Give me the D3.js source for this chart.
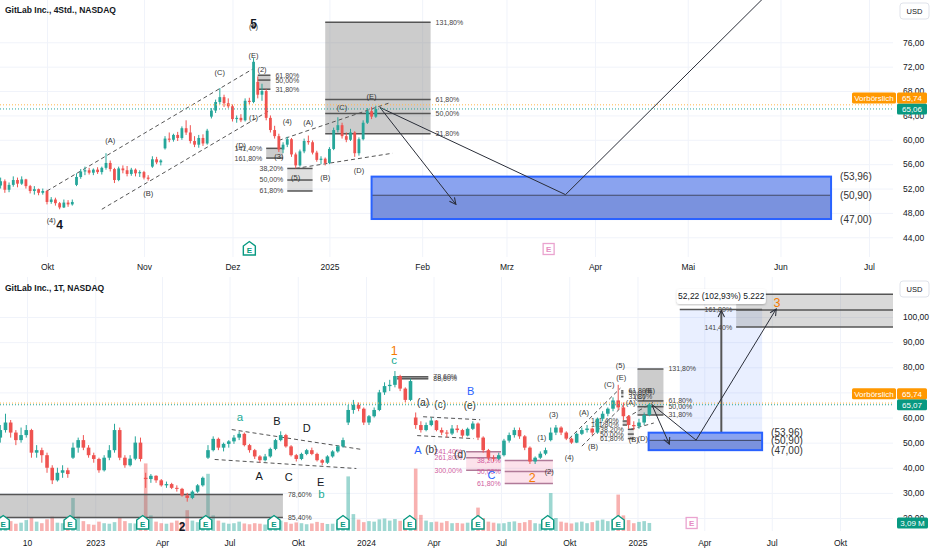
<!DOCTYPE html>
<html lang="de">
<head>
<meta charset="utf-8">
<title>GitLab Inc. 4Std. / 1T</title>
<script src="https://cdn.jsdelivr.net/npm/d3@7"></script>
<style>
  html, body { margin: 0; padding: 0; background: #ffffff; }
  #chart svg { display: block; font-family: "Liberation Sans", Arial, sans-serif; }
</style>
</head>
<body>
<div id="chart"></div>
<script>
/*
  GitLab Inc. (NASDAQ) - wave count on a 4h chart (top) and a daily chart (bottom).
  All prices.
*/

// ---------------- 4Std. panel data ----------------

// first weekday shown in the 4h panel, one bar per weekday
const topStart = "2024-09-13";

// [open, high, low, close]
const topBars = [
  [52.0,53.5,51.5,52.5],[52.5,53.8,52.0,53.2],[53.2,53.5,51.3,51.8],[51.8,53.0,51.4,52.6],[52.6,54.0,52.3,53.4],
  [53.4,53.8,52.2,52.8],[52.8,54.0,52.6,53.5],[53.5,53.6,52.0,52.4],[52.4,52.6,51.2,51.6],[51.6,52.4,51.0,51.9],
  [51.9,52.0,50.9,51.3],[51.3,52.0,51.0,51.6],[51.6,51.8,49.4,49.8],[49.8,50.6,49.5,50.2],[50.2,50.5,49.2,49.6],
  [49.6,49.8,48.6,48.9],[48.9,50.2,48.8,49.7],[49.7,50.1,49.0,49.4],[49.4,50.2,49.2,49.8],[52.6,54.5,52.4,53.9],
  [53.9,55.2,53.6,54.8],[54.8,55.6,54.2,55.0],[55.0,55.4,54.3,54.6],[54.6,55.3,54.2,55.1],[55.1,55.5,54.4,54.7],
  [54.7,55.6,54.3,55.4],[55.4,57.8,55.1,56.2],[56.2,56.6,54.8,55.2],[55.2,55.4,52.9,53.4],[53.4,55.6,53.2,55.3],
  [55.3,55.8,54.5,55.0],[55.0,55.7,54.0,54.4],[54.4,55.4,54.1,55.1],[55.1,55.3,54.0,54.5],[54.5,55.0,53.9,54.7],
  [54.7,54.9,53.5,53.8],[53.8,54.2,53.3,53.6],[55.6,57.3,55.4,56.8],[56.8,57.2,56.0,56.3],[56.3,56.8,55.8,56.6],
  [58.6,60.6,58.4,60.2],[60.2,61.2,59.6,60.0],[60.0,61.0,59.7,60.8],[60.8,61.3,59.8,60.3],[60.3,62.2,60.0,61.9],
  [61.9,63.2,60.8,61.2],[61.2,62.4,59.4,59.8],[59.8,60.6,58.8,59.2],[59.2,60.8,58.7,60.3],[60.3,60.9,59.0,59.4],
  [59.4,61.8,59.2,61.5],[63.8,65.2,63.5,64.8],[64.8,66.6,64.4,66.2],[66.2,68.5,65.8,67.0],[67.0,67.4,65.4,66.0],
  [66.0,66.8,65.2,65.5],[65.5,65.8,63.0,63.4],[63.4,64.0,62.8,63.6],[63.6,64.2,62.9,63.2],[63.2,66.8,63.0,66.4],
  [66.4,66.9,65.8,66.2],[66.2,73.4,66.0,72.8],[69.5,70.4,66.8,67.4],[67.4,69.2,66.4,68.0],[68.0,68.3,63.2,63.6],
  [63.6,64.0,61.2,61.6],[61.6,62.3,60.2,60.6],[60.6,61.0,58.0,58.4],[58.4,59.6,57.8,59.2],[59.2,60.5,58.8,60.1],
  [60.1,60.3,57.2,57.6],[57.6,57.9,55.3,55.8],[55.8,58.4,55.6,58.1],[58.1,60.2,57.8,59.8],[59.8,60.7,59.2,59.6],
  [59.6,59.9,57.6,57.9],[57.9,58.2,56.4,56.7],[56.7,57.3,56.0,56.9],[56.9,57.1,55.8,56.2],[56.2,58.8,56.0,58.5],
  [58.5,62.0,58.3,61.6],[61.6,63.7,61.2,62.4],[62.4,62.8,60.2,60.6],[60.6,61.2,59.6,60.0],[60.0,61.8,59.8,61.2],
  [61.2,61.4,57.2,57.8],[57.8,60.4,57.4,60.1],[60.1,63.2,59.9,62.8],[62.8,65.2,62.6,64.7],[64.7,65.4,63.4,63.8],
  [63.8,65.6,63.6,65.06]
];

const topPriceTicks = [44, 48, 52, 56, 60, 64, 68, 72, 76];
const topMonths = ["2024-10-01","2024-11-01","2024-12-01","2025-01-02","2025-02-01","2025-03-01","2025-04-01","2025-05-01","2025-06-01","2025-07-01"];
const topMonthLabels = ["Okt","Nov","Dez","2025","Feb","Mrz","Apr","Mai","Jun","Jul"];

// wave labels on the 4h chart
const topWaveText  = ["(5)","(E)","(C)","(2)","(1)","(4)","(A)","(D)","(3)","(5)","(B)","(D)","(C)","(E)","(A)","(B)","(4)"];
const topWaveDate  = ["2024-12-09","2024-12-09","2024-11-27","2024-12-11","2024-12-09","2024-12-19","2024-12-26","2024-12-04","2024-12-17","2024-12-23","2025-01-01","2025-01-13","2025-01-07","2025-01-16","2024-10-22","2024-11-04","2024-10-02"];
const topWavePrice = [78.6,73.9,71.1,71.6,63.7,63.0,62.9,59.1,57.3,53.8,53.8,55.0,65.3,67.1,59.9,51.2,46.8];
const topBigText  = ["5","4"];
const topBigDate  = ["2024-12-09","2024-10-04"];
const topBigPrice = [79.1, 46.0];

// ---------------- 1T panel data ----------------

// weekly candles starting this friday
const dayStart = "2022-08-19";

const dayBars = [
  [50,56,47,52],[52,57,50,55],[55,61.5,54,58],[58,59,52,54],[54,55,49,51],
  [51,56,50,53],[53,57,52,55],[55,55.5,44,46],[46,49,44,47],[47,48,42,45],
  [45,46,38,40],[40,41,33.5,35],[35,40,34.5,38],[38,41,36,39],[39,40,36,37.5],
  [44,50,43.5,48],[48,52,46,51],[51,53,47,48],[48,49,44,45],[45,46,42,43.5],
  [43.5,44,38,39],[39,45,38.5,44],[44,49,43,47],[47,57.5,46,55],[55,56,43,44],
  [44,45,40,41],[41,45,40.5,43.6],[43.6,52.5,43,50],[50,52,42.5,43.5],[36,38,32,35.5],
  [35.5,37.5,34,36.8],[36.8,37,34,35],[35,35.5,32.5,33],[33,34.5,32,33.5],[33.5,34,31.5,32],
  [32,33,30.5,31.6],[31.6,32,28.5,29],[29,30,26.5,28],[28,31,27.5,30.5],[30.5,33.5,30,33],
  [33,36.5,32.5,36],[44,49,43.5,47],[47,52.5,46.5,51.5],[51.5,52,47,48],[48,50,46.5,49.5],
  [49.5,51,48,50.5],[50.5,53,49.5,52],[52,54.5,51,53.5],[53.5,54,48.5,49],[49,49.5,46,47],
  [47,47.5,43.5,44.5],[44.5,45,42,43],[43,45.5,42.5,44.5],[44.5,48,44,47.5],[47.5,51.5,47,51],
  [51,54.5,50.5,53],[53,53.5,48,48.5],[48.5,49,44.5,45],[45,45.5,42.5,43.5],[43.5,46,43,45.5],
  [45.5,47.5,45,47],[47,48,45,45.5],[45.5,46,42.5,43],[43,43.5,41,42],[42,45,41.5,44.5],
  [44.5,47,44,46.5],[46.5,49,46,48.5],[48.5,52,48,51],[58,65,57,63],[63,67,61.5,65],
  [65,66,62.5,63.5],[63.5,64,57,58],[58,61,57,60.5],[60.5,64,60,63],[63,71,62.5,70],
  [70,74,69,72.5],[72.5,75,70.5,73],[73,78.5,72,76.5],[76.5,77,70.5,71.5],[71.5,72,66,67],
  [67,75.5,66.5,74.5],[60,62,55.5,57],[57,58.5,54,55],[55,58,54.5,57],[57,60,56.5,58.8],
  [58.8,59,54.5,55],[55,56,53,54],[54,55,52,53.6],[53.6,57,53,55.6],[55.6,57,54,55],
  [55,55.5,52,52.8],[52.8,56,52.5,55.5],[55.5,58.5,55,57.6],[57.6,58,51,52],[52,52.5,46,47],
  [47,47.5,43,44],[44,45,42.5,43.6],[43.6,46,43,45],[45,51.5,44.5,50.8],[50.8,54,50,53],
  [53,56,52,55],[55,56,51.5,52.5],[52.5,53,47,48],[48,48.5,41.5,42.5],[42.5,44.5,41.5,44],
  [44,46.5,43.5,45.6],[45.6,48,45,47],[51,56,50.5,54],[54,57,53,56],[56,56.5,53,54],
  [54,54.5,51,51.6],[51.6,52,49.5,50],[50,54,49.8,53.5],[53.5,56,53,55],[55,57,54,55.6],
  [55.6,56,53,54],[54,60,53.5,59.5],[59.5,62.5,58.5,61.5],[61.5,64,60.5,63.5],[63.5,68,62.5,66.8],
  [66.8,73,63,64],[64,66,59,60.5],[60.5,61,55.5,57],[57,58.5,55,56.5],[56.5,59.5,55.5,58],
  [58,62,57,61],[61,65.8,60.5,65.07]
];

// volume in millions, one value per candle above
const dayVolume = [
  3.5,4,3,3.8,2.8,3.2,4.2,5,3.6,3,
  4.5,5.5,3.2,3,3.4,12.7,5.5,3.8,2.6,2.4,
  3.6,3,2.8,3.4,5.2,3.8,3,2.9,4,26,
  6,3.6,3,2.8,3.2,4,3.5,8,4,3.4,
  3.6,22,6,4,3.2,2.8,3,3.6,2.9,2.6,
  3,2.8,2.5,3.2,3.6,4,3.4,2.8,3.3,3,
  2.6,2.9,3.5,3.1,2.7,2.8,3.2,4,21,6.5,
  4.4,3.4,3.8,3.6,4.5,4.8,4,4.6,3.9,4.2,
  4.8,24,6.2,4,3.4,3.6,3.2,3.8,3,3.1,
  2.9,3.2,3.4,9,5,3.6,3.2,2.9,3,3.5,
  3.7,3.1,3.4,4.2,3,2.8,3.2,14.6,5,3.6,
  3.2,2.9,3.3,3.6,3,3.4,4,4.4,3.8,4.6,
  14,6,4.2,3,3.5,3.8,3.09
];

const dayPriceTicks = [20, 30, 40, 50, 60, 70, 80, 90, 100];
const dayQuarters = ["2022-10-01","2023-01-01","2023-04-01","2023-07-01","2023-10-01","2024-01-01","2024-04-01","2024-07-01","2024-10-01","2025-01-01","2025-04-01","2025-07-01","2025-10-01"];
const dayQuarterLabels = ["10","2023","Apr","Jul","Okt","2024","Apr","Jul","Okt","2025","Apr","Jul","Okt"];

// earnings
const earnPast = ["2022-08-30","2022-11-28","2023-03-06","2023-05-30","2023-08-30","2023-12-01","2024-02-29","2024-05-31","2024-09-02","2024-12-06"];
const earnNext = ["2025-03-15"];

// wave labels on the daily chart
const botDarkText  = ["B","D","A","C","E"];
const botDarkDate  = ["2023-09-03","2023-10-13","2023-08-10","2023-09-19","2023-11-01"];
const botDarkPrice = [58.6,55.8,36.7,36.3,34.3];
const botTealText  = ["a","b","c"];
const botTealDate  = ["2023-07-15","2023-11-02","2024-02-08"];
const botTealPrice = [60.2,29.6,82.9];
const botBlueText  = ["A","B","C"];
const botBlueDate  = ["2024-03-11","2024-05-21","2024-06-18"];
const botBluePrice = [47.1,70.5,37.1];
const botOrangeText  = ["1","2","3"];
const botOrangeDate  = ["2024-02-08","2024-08-12","2025-07-08"];
const botOrangePrice = [86.5,35.9,105.6];
const botParenText  = ["(a)","(c)","(e)","(b)","(d)"];
const botParenDate  = ["2024-03-18","2024-04-10","2024-05-20","2024-03-29","2024-05-07"];
const botParenPrice = [65.8,65.0,64.6,47.1,45.1];
const botSmallText  = ["(1)","(2)","(3)","(4)","(A)","(B)","(C)","(E)","(5)","(A)","(C)","(E)","(B)","(D)"];
const botSmallDate  = ["2024-08-25","2024-09-04","2024-09-10","2024-10-01","2024-10-21","2024-11-02","2024-11-24","2024-12-10","2024-12-09","2024-12-23","2025-01-04","2025-01-18","2024-12-27","2025-01-08"];
const botSmallPrice = [52.2,38.7,61.4,44.3,62.2,48.7,73.3,76.1,80.9,66.2,68.6,70.9,51.4,51.8];

// ---------------- drawings (date, price) ----------------

// fib boxes from the 4h count, also visible on the daily chart
const fibMain = {from: "2025-01-01", to: "2025-02-05", levels: [79.3, 66.6, 64.3, 61.0], labels: ["131,80%","61,80%","50,00%","31,80%"]};
const fibE    = {from: "2024-12-10", to: "2024-12-13", levels: [70.6, 69.8, 68.3], labels: ["61,80%","50,00%","31,80%"]};
const fibD    = {from: "2024-12-12", to: "2024-12-18", levels: [58.6, 57.0], labels: ["141,40%","161,80%"]};
const fib5    = {from: "2024-12-19", to: "2024-12-27", levels: [55.3, 53.4, 51.6], labels: ["38,20%","50,00%","61,80%"]};
// daily-only fibs
const fibLeft = {from: "2022-08-01", to: "2023-09-11", levels: [29.4, 20.2], labels: ["78,60%","85,40%"]};
const fibTop1 = {from: "2024-02-12", to: "2024-03-25", levels: [76.2, 75.4], labels: ["78,60%","88,60%"]};
const fibPinkA = {from: "2024-05-15", to: "2024-07-01", levels: [46.4, 44.0, 39.0], labels: ["241,40%","261,80%","300,00%"]};
const fibPinkB = {from: "2024-07-06", to: "2024-09-09", levels: [42.9, 38.5, 33.7], labels: ["38,20%","50,00%","61,80%"]};
const fibTarget = {from: "2025-05-14", to: "2025-12-31", levels: [109.1, 102.8, 96.0], labels: ["","161,80%","141,40%"]};

// support zone
const zoneFrom = "2025-01-16", zoneTo = "2025-06-18";
const zoneLevels = [53.96, 50.90, 47.00];

// dashed channels
const channels4h = [
  [["2024-10-01", 51.6], ["2024-12-09", 71.7]],
  [["2024-10-18", 48.6], ["2024-12-13", 64.9]],
  [["2024-12-17", 59.9], ["2025-01-22", 66.0]],
  [["2024-12-23", 55.3], ["2025-01-23", 57.8]]
];
const channelsDaily = [
  [["2023-07-04", 55.2], ["2023-12-28", 47.2]],
  [["2023-06-11", 43.3], ["2023-12-19", 39.7]],
  [["2024-03-18", 60.3], ["2024-06-03", 59.1]],
  [["2024-03-10", 52.8], ["2024-05-25", 51.6]]
];

// projected paths
const pathMain  = [["2025-01-20", 65.3], ["2025-03-21", 51.0], ["2025-07-07", 103.2]];
const pathShort = [["2025-01-20", 65.3], ["2025-02-13", 49.4]];

// measure tool on the daily chart
const measFrom = "2025-02-27", measTo = "2025-06-18", measMid = "2025-04-24";
const measLow = 50.73, measHigh = 102.95;
const measChange = 52.22, measPct = 102.93, measTicks = 5222;

const lastClose = 65.06, lastCloseDaily = 65.07, preMarket = 65.74, lastVolume = 3.09;

// ---------------- layout ----------------
const width = 932;
const height = 550;
const plotRight = 893;
const topPane = {top: 0, bottom: 257, axisY: 268};
const botPane = {top: 277, bottom: 531, axisY: 544};

const up = "#26a69a", down = "#ef5350";
const textCol = "#131722";
const parse = d3.timeParse("%Y-%m-%d");
const dec = d3.format(".2f");
const de = v => dec(v).replace(".", ",");

// ---------------- scales ----------------

// 4h: weekdays only, spaced evenly like the exchange calendar
const topDays = d3.timeDay.range(parse(topStart), parse("2025-08-01")).filter(d => d.getDay() % 6 !== 0);
const dayIndex = d => d3.bisectLeft(topDays, d);
const xTopIdx = d3.scaleLinear()
  .domain([dayIndex(parse("2024-10-01")), dayIndex(parse("2025-07-01"))])
  .range([47, 869]);
const xTop = d => xTopIdx(dayIndex(d));
const yTop = d3.scaleLinear().domain([44, 76]).range([237.3, 42.3]);

// daily
const xBot = d3.scaleTime().domain([parse("2022-10-01"), parse("2025-10-01")]).range([27, 840]);
const yBot = d3.scaleLinear().domain([20, 100]).range([518, 317]);
const yVol = d3.scaleLinear().domain([0, 30]).range([botPane.bottom, botPane.bottom - 78]);

// ---------------- svg ----------------
const svg = d3.select("#chart").append("svg")
  .attr("width", width)
  .attr("height", height)
  .attr("viewBox", [0, 0, width, height]);

const defs = svg.append("defs");
defs.append("clipPath").attr("id", "clipTop").append("rect")
  .attr("x", 0).attr("y", topPane.top).attr("width", plotRight).attr("height", topPane.bottom - topPane.top);
defs.append("clipPath").attr("id", "clipBot").append("rect")
  .attr("x", 0).attr("y", botPane.top).attr("width", plotRight).attr("height", botPane.bottom - botPane.top);
defs.append("marker").attr("id", "arrow")
  .attr("viewBox", "0 0 10 10").attr("refX", 9).attr("refY", 5)
  .attr("markerUnits", "userSpaceOnUse")
  .attr("markerWidth", 8).attr("markerHeight", 8).attr("orient", "auto")
  .append("path").attr("d", "M1,1 L9,5 L1,9")
  .attr("fill", "none").attr("stroke", "#2a2e39").attr("stroke-width", 1.3);
defs.append("filter").attr("id", "shadow")
  .append("feDropShadow").attr("dx", 0).attr("dy", 1).attr("stdDeviation", 1.2).attr("flood-opacity", 0.25);

// ---------------- helpers ----------------

function grid(g, x, y, timeTicks, priceTicks, pane) {
  g.append("g")
    .call(d3.axisRight(y).tickValues(priceTicks).tickSize(plotRight).tickFormat(""))
    .call(a => a.select(".domain").remove())
    .call(a => a.selectAll("line").attr("stroke", "#f0f3fa"));
  g.append("g")
    .attr("transform", `translate(0,${pane.bottom})`)
    .call(d3.axisBottom(x).tickValues(timeTicks).tickSize(-(pane.bottom - pane.top)).tickFormat(""))
    .call(a => a.select(".domain").remove())
    .call(a => a.selectAll("line").attr("stroke", "#f0f3fa"));
}

function timeLabels(x, timeTicks, labels, pane) {
  svg.append("g")
    .attr("transform", `translate(0,${pane.axisY - 7})`)
    .call(d3.axisBottom(x).tickValues(timeTicks).tickSize(0).tickFormat((d, i) => labels[i]))
    .call(a => a.select(".domain").remove())
    .attr("font-family", null)
    .attr("font-size", 8.5)
    .selectAll("text").attr("fill", textCol);
}

// price scale labels; ticks hidden under a price tag are left out (as on the reference)
function priceLabels(y, priceTicks, pane, hidden) {
  svg.append("g")
    .attr("transform", `translate(${plotRight},0)`)
    .call(d3.axisRight(y).tickValues(priceTicks.filter(v => !hidden.includes(v))).tickSize(0).tickPadding(10).tickFormat(de))
    .call(a => a.select(".domain").remove())
    .attr("font-family", null)
    .attr("font-size", 8.5)
    .selectAll("text").attr("fill", textCol);
}

function candles(g, dates, bars, x, y, bw) {
  const c = g.selectAll(null)
    .data(bars)
    .enter()
    .append("g")
    .attr("transform", (d, i) => `translate(${x(dates[i])},0)`);
  c.append("line")
    .attr("y1", d => y(d[1]))
    .attr("y2", d => y(d[2]))
    .attr("stroke", d => d[3] >= d[0] ? up : down)
    .attr("stroke-width", 1);
  c.append("rect")
    .attr("x", -bw / 2)
    .attr("width", bw)
    .attr("y", d => y(Math.max(d[0], d[3])))
    .attr("height", d => Math.max(1, Math.abs(y(d[0]) - y(d[3]))))
    .attr("fill", d => d[3] >= d[0] ? up : down);
}

// fib / box drawing; side = where the percent labels go
function fibBox(g, x, y, f, side, fill, stroke, labelCol) {
  const x0 = x(parse(f.from)), x1 = x(parse(f.to));
  const hi = d3.max(f.levels), lo = d3.min(f.levels);
  g.append("rect")
    .attr("x", x0).attr("width", x1 - x0)
    .attr("y", y(hi)).attr("height", y(lo) - y(hi))
    .attr("fill", fill);
  f.levels.forEach((v, i) => {
    g.append("line")
      .attr("x1", x0).attr("x2", x1)
      .attr("y1", y(v)).attr("y2", y(v))
      .attr("stroke", stroke).attr("stroke-width", 1.5);
    g.append("text")
      .attr("x", side === "right" ? x1 + 5 : x0 - 4)
      .attr("y", y(v))
      .attr("dy", "0.35em")
      .attr("text-anchor", side === "right" ? "start" : "end")
      .attr("font-size", 7)
      .attr("fill", labelCol)
      .text(f.labels[i]);
  });
}

function polyline(g, x, y, pts, dash, arrow) {
  const line = d3.line().x(p => x(parse(p[0]))).y(p => y(p[1]));
  const p = g.append("path")
    .attr("d", line(pts))
    .attr("fill", "none")
    .attr("stroke", dash ? "#555" : "#2a2e39")
    .attr("stroke-width", 1)
    .attr("stroke-dasharray", dash ? "4,3" : null);
  if (arrow) p.attr("marker-end", "url(#arrow)");
}

function labels(g, x, y, texts, dates, prices, size, color, weight) {
  g.selectAll(null)
    .data(texts)
    .enter()
    .append("text")
    .attr("x", (d, i) => x(parse(dates[i])))
    .attr("y", (d, i) => y(prices[i]))
    .attr("dy", "0.35em")
    .attr("text-anchor", "middle")
    .attr("font-size", size)
    .attr("font-weight", weight || "normal")
    .attr("fill", color)
    .text(d => d);
}

function zone(g, x, y, labelled) {
  const x0 = x(parse(zoneFrom)), x1 = x(parse(zoneTo));
  const [a, b, c] = zoneLevels;
  g.append("rect").attr("x", x0).attr("width", x1 - x0).attr("y", y(a)).attr("height", y(b) - y(a)).attr("fill", "#8aa3ef");
  g.append("rect").attr("x", x0).attr("width", x1 - x0).attr("y", y(b)).attr("height", y(c) - y(b)).attr("fill", "#7a92de");
  g.append("line").attr("x1", x0).attr("x2", x1).attr("y1", y(b)).attr("y2", y(b)).attr("stroke", "#3d4766").attr("stroke-width", 1);
  g.append("rect").attr("x", x0).attr("width", x1 - x0).attr("y", y(a)).attr("height", y(c) - y(a))
    .attr("fill", "none").attr("stroke", "#2962ff").attr("stroke-width", 2);
  if (labelled) {
    zoneLevels.forEach(v => {
      svg.append("text")
        .attr("x", x1 + 9).attr("y", y(v)).attr("dy", "0.35em")
        .attr("font-size", 10).attr("fill", "#333")
        .text("(" + de(v) + ")");
    });
  }
}

function earningsBadge(g, cx, cy, future) {
  if (future) {
    g.append("rect").attr("x", cx - 5.5).attr("y", cy - 5.5).attr("width", 11).attr("height", 11)
      .attr("fill", "#fff").attr("stroke", "#eaa3cf").attr("stroke-width", 1.3);
    g.append("text").attr("x", cx).attr("y", cy + 3.2).attr("text-anchor", "middle")
      .attr("font-size", 8).attr("font-weight", "bold").attr("fill", "#e58cc2").text("E");
  } else {
    g.append("path")
      .attr("d", `M${cx - 6},${cy + 6} L${cx - 6},${cy - 3} L${cx},${cy - 7.5} L${cx + 6},${cy - 3} L${cx + 6},${cy + 6} Z`)
      .attr("fill", "#fff").attr("stroke", "#089981").attr("stroke-width", 1.4);
    g.append("text").attr("x", cx).attr("y", cy + 4).attr("text-anchor", "middle")
      .attr("font-size", 8).attr("font-weight", "bold").attr("fill", "#089981").text("E");
  }
}

function priceTag(y0, h, x0, w, fill, text) {
  svg.append("rect").attr("x", x0).attr("y", y0).attr("width", w).attr("height", h).attr("rx", 1.5).attr("fill", fill);
  svg.append("text").attr("x", x0 + w / 2).attr("y", y0 + h / 2).attr("dy", "0.35em")
    .attr("text-anchor", "middle").attr("font-size", 8).attr("fill", "#fff").text(text);
}

function usdBox(y0) {
  svg.append("rect").attr("x", 900).attr("y", y0).attr("width", 29).attr("height", 16).attr("rx", 3)
    .attr("fill", "#fff").attr("stroke", "#e0e3eb");
  svg.append("text").attr("x", 914.5).attr("y", y0 + 8).attr("dy", "0.35em").attr("text-anchor", "middle")
    .attr("font-size", 7.5).attr("fill", textCol).text("USD");
}

// drawings that belong to the 4h wave count
function drawCount(g, x, y) {
  const gray = "rgba(128,128,128,0.4)";
  fibBox(g, x, y, fibMain, "right", gray, "#555", "#444");
  fibBox(g, x, y, fibE, "right", gray, "#555", "#444");
  fibBox(g, x, y, fibD, "left", gray, "#555", "#444");
  fibBox(g, x, y, fib5, "left", "rgba(128,128,128,0.25)", "#555", "#444");
  channels4h.forEach(c => polyline(g, x, y, c, true, false));
}

// ================= TOP: 4Std. =================
const topG = svg.append("g");
grid(topG, xTopIdx, yTop, topMonths.map(d => dayIndex(parse(d))), topPriceTicks, topPane);

const topPlot = topG.append("g").attr("clip-path", "url(#clipTop)");
drawCount(topPlot, xTop, yTop);
candles(topPlot, topDays, topBars, xTop, yTop, 2.8);
zone(topPlot, xTop, yTop, true);
polyline(topPlot, xTop, yTop, pathShort, false, true);
polyline(topPlot, xTop, yTop, pathMain, false, true);
labels(topPlot, xTop, yTop, topWaveText, topWaveDate, topWavePrice, 7.5, "#333");
labels(topPlot, xTop, yTop, topBigText, topBigDate, topBigPrice, 12, textCol, "bold");

// premarket / last price lines
[[preMarket, "#ffb74d"], [lastClose, "#26a69a"]].forEach(([v, c]) => {
  topPlot.append("line").attr("x1", 0).attr("x2", plotRight).attr("y1", yTop(v)).attr("y2", yTop(v))
    .attr("stroke", c).attr("stroke-width", 1).attr("stroke-dasharray", "1,2");
});

earnPast.concat(earnNext).forEach(d => {
  const dt = parse(d);
  if (dt >= topDays[0]) earningsBadge(topG, xTop(dt), 249, earnNext.includes(d));
});

svg.append("text").attr("x", 5).attr("y", 10).attr("dy", "0.35em")
  .attr("font-size", 8.5).attr("font-weight", "bold").attr("fill", textCol)
  .text("GitLab Inc., 4Std., NASDAQ");

timeLabels(xTopIdx, topMonths.map(d => dayIndex(parse(d))), topMonthLabels, topPane);
priceLabels(yTop, topPriceTicks, topPane, []);
usdBox(3);
{
  const yc = yTop(lastClose);
  priceTag(yc - 5.5, 11, 897, 30, "#089981", de(lastClose));
  priceTag(yc - 16.5, 11, 897, 30, "#ff9800", de(preMarket));
  priceTag(yc - 16.5, 11, 852, 44, "#ff9800", "Vorbörslich");
}

// ================= BOTTOM: 1T =================
const dayDates = dayBars.map((d, i) => d3.timeWeek.offset(parse(dayStart), i));
const botG = svg.append("g");
grid(botG, xBot, yBot, dayQuarters.map(parse), dayPriceTicks, botPane);

const botPlot = botG.append("g").attr("clip-path", "url(#clipBot)");

// volume
botPlot.selectAll(".vol")
  .data(dayVolume)
  .enter()
  .append("rect")
  .attr("class", "vol")
  .attr("x", (d, i) => xBot(dayDates[i]) - 1.8)
  .attr("width", 3.6)
  .attr("y", d => yVol(d))
  .attr("height", d => yVol(0) - yVol(d))
  .attr("fill", (d, i) => dayBars[i][3] >= dayBars[i][0] ? "rgba(38,166,154,0.45)" : "rgba(239,83,80,0.45)");

// boxes
fibBox(botPlot, xBot, yBot, fibLeft, "right", "rgba(128,128,128,0.4)", "#555", "#444");
fibBox(botPlot, xBot, yBot, fibTop1, "right", "rgba(128,128,128,0.4)", "#555", "#444");
fibBox(botPlot, xBot, yBot, fibPinkA, "left", "rgba(233,30,99,0.13)", "#b07a98", "#d05ca0");
fibBox(botPlot, xBot, yBot, fibPinkB, "left", "rgba(233,30,99,0.13)", "#b07a98", "#d05ca0");

// measure tool
{
  const x0 = xBot(parse(measFrom)), x1 = xBot(parse(measTo)), xm = xBot(parse(measMid));
  botPlot.append("rect").attr("x", x0).attr("width", x1 - x0)
    .attr("y", yBot(measHigh)).attr("height", yBot(measLow) - yBot(measHigh))
    .attr("fill", "rgba(41,98,255,0.1)");
  fibBox(botPlot, xBot, yBot, fibTarget, "left", "rgba(128,128,128,0.3)", "#555", "#444");
  [measHigh, measLow].forEach(v => {
    botPlot.append("line").attr("x1", x0).attr("x2", x1).attr("y1", yBot(v)).attr("y2", yBot(v))
      .attr("stroke", "#555").attr("stroke-width", 1.5);
  });
  botPlot.append("line").attr("x1", xm).attr("x2", xm).attr("y1", yBot(measLow)).attr("y2", yBot(measHigh) + 1)
    .attr("stroke", "#555").attr("stroke-width", 2).attr("marker-end", "url(#arrow)");
  const tip = `${de(measChange)} (${de(measPct)}%) ${d3.format(",")(measTicks).replace(",", ".")}`;
  svg.append("rect").attr("x", xm - 44.5).attr("y", 289).attr("width", 89).attr("height", 15).attr("rx", 3)
    .attr("fill", "#fff").attr("filter", "url(#shadow)");
  svg.append("text").attr("x", xm).attr("y", 296.5).attr("dy", "0.35em").attr("text-anchor", "middle")
    .attr("font-size", 8.5).attr("fill", textCol).text(tip);
}

drawCount(botPlot, xBot, yBot);
channelsDaily.forEach(c => polyline(botPlot, xBot, yBot, c, true, false));
candles(botPlot, dayDates, dayBars, xBot, yBot, 3.6);
zone(botPlot, xBot, yBot, true);
polyline(botPlot, xBot, yBot, pathShort, false, true);
polyline(botPlot, xBot, yBot, pathMain, false, true);

labels(botPlot, xBot, yBot, botDarkText, botDarkDate, botDarkPrice, 11, textCol);
labels(botPlot, xBot, yBot, botTealText, botTealDate, botTealPrice, 11.5, "#22ab94");
labels(botPlot, xBot, yBot, botBlueText, botBlueDate, botBluePrice, 11, "#2962ff");
labels(botPlot, xBot, yBot, botOrangeText, botOrangeDate, botOrangePrice, 12.5, "#f57c00");
labels(botPlot, xBot, yBot, botParenText, botParenDate, botParenPrice, 10, "#333");
labels(botPlot, xBot, yBot, botSmallText, botSmallDate, botSmallPrice, 7.5, "#333");

[[preMarket, "#ffb74d"], [lastCloseDaily, "#26a69a"]].forEach(([v, c]) => {
  botPlot.append("line").attr("x1", 0).attr("x2", plotRight).attr("y1", yBot(v)).attr("y2", yBot(v))
    .attr("stroke", c).attr("stroke-width", 1).attr("stroke-dasharray", "1,2");
});

earnPast.forEach(d => earningsBadge(botG, xBot(parse(d)), 523, false));
earnNext.forEach(d => earningsBadge(botG, xBot(parse(d)), 523, true));

// wave 2 low, sits right on the time axis
svg.append("text").attr("x", xBot(parse("2023-04-28"))).attr("y", 531).attr("text-anchor", "middle")
  .attr("font-size", 12).attr("font-weight", "bold").attr("fill", textCol).text("2");

svg.append("text").attr("x", 5).attr("y", 288).attr("dy", "0.35em")
  .attr("font-size", 8.5).attr("font-weight", "bold").attr("fill", textCol)
  .text("GitLab Inc., 1T, NASDAQ");

timeLabels(xBot, dayQuarters.map(parse), dayQuarterLabels, botPane);
priceLabels(yBot, dayPriceTicks, botPane, [70]);
usdBox(281);
{
  const yc = yBot(lastCloseDaily);
  priceTag(yc - 5.5, 11, 897, 30, "#089981", de(lastCloseDaily));
  priceTag(yc - 16.5, 11, 897, 30, "#ff9800", de(preMarket));
  priceTag(yc - 16.5, 11, 852, 44, "#ff9800", "Vorbörslich");
  const yv = yVol(lastVolume);
  priceTag(yv - 5.5, 11, 897, 31, "#089981", de(lastVolume) + " M");
}
</script>
</body>
</html>
